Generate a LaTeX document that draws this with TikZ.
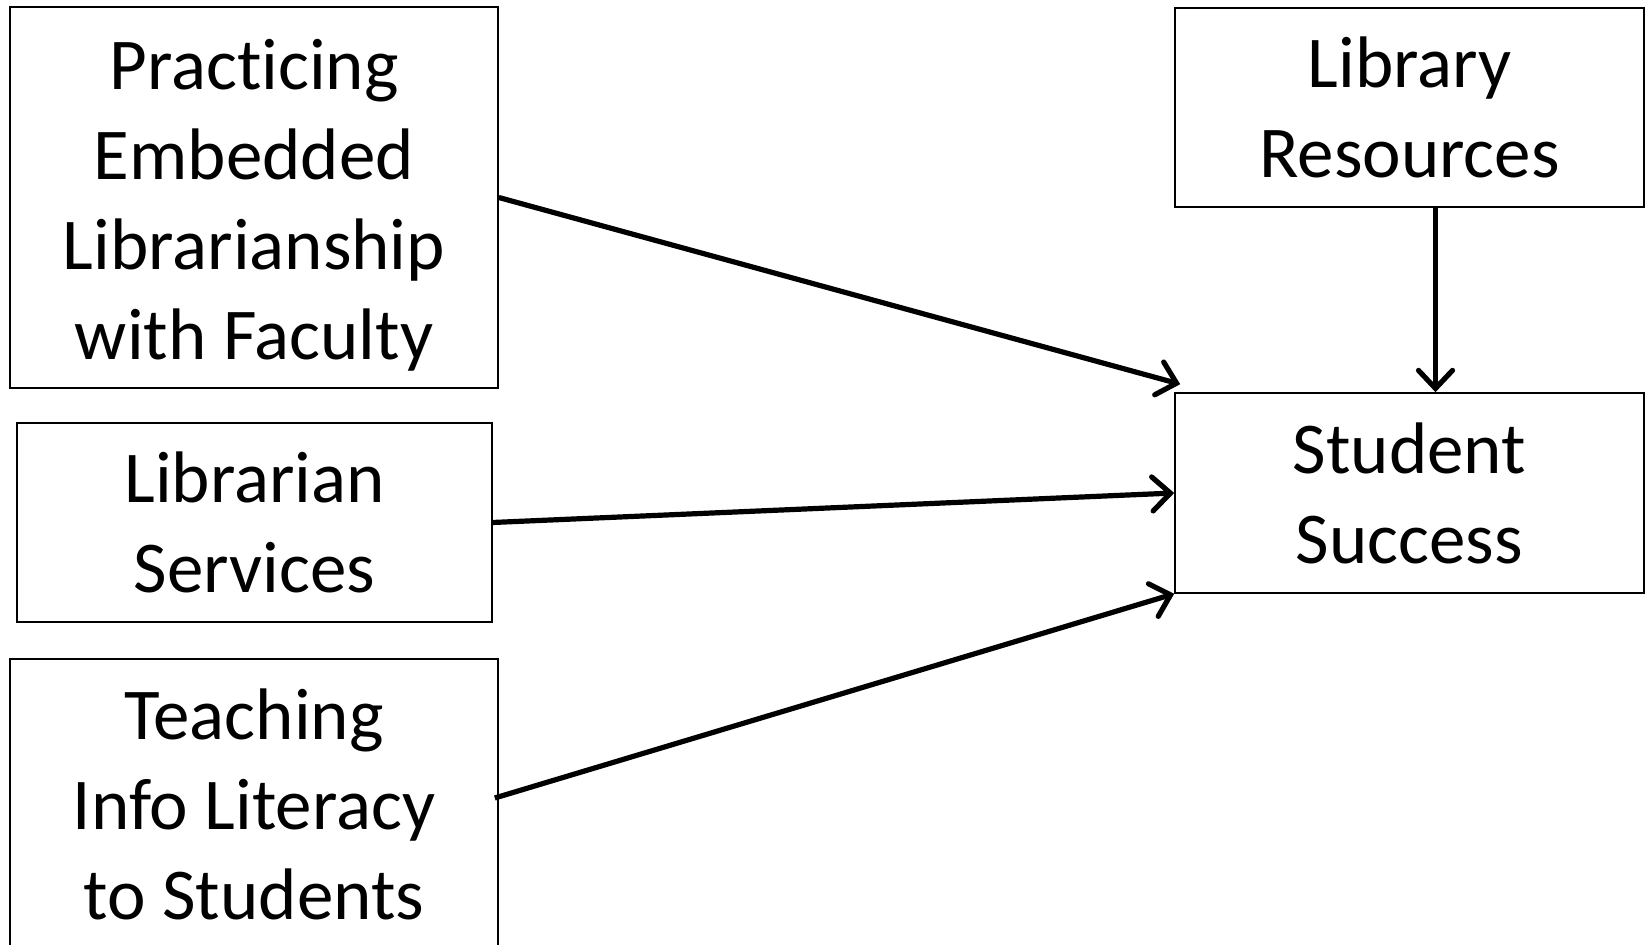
\documentclass[tikz,border=0pt]{standalone}
\usepackage{fontspec}
\setmainfont[Ligatures=NoCommon]{Carlito}
\usetikzlibrary{arrows.meta,positioning}
\tikzset{
  >={Straight Barb[length=9pt,width=17pt,line cap=round]},
  box/.style={draw=black,line width=0.8pt,align=center,inner sep=0pt,
    font=\fontsize{36.5}{45}\selectfont},
  flow/.style={->,line width=2.6pt,draw=black},
}

\begin{document}
\begin{tikzpicture}[x=0.5pt,y=-0.5pt]
    \useasboundingbox (0,0) rectangle (1646,945);
    % causes on the left
    \node[box,minimum width=244pt,minimum height=190.5pt] (pel) at (254,197.5)
      {\rule{0pt}{33pt}Practicing\\Embedded\\Librarianship\\with Faculty};
    \node[box,minimum width=237.5pt,minimum height=99.5pt] (ls) at (254.5,522.5)
      {Librarian\\Services};
    \node[box,minimum width=244pt,minimum height=148pt] (til) at (254,807)
      {Teaching\\Info Literacy\\to Students\rule[-3pt]{0pt}{0pt}};
    % right column
    \node[box,minimum width=234.5pt,minimum height=99.5pt] (lr) at (1409.5,107.5)
      {Library\\Resources};
    \node[box,minimum width=234.5pt,minimum height=100pt] (ss) at (1409.5,493)
      {Student\\Success};
    \draw[flow] (pel.east) -- ([xshift=3pt,yshift=4pt]ss.north west);
    \draw[flow] (ls.east) -- (ss.west);
    \draw[flow] ([xshift=-2pt,yshift=4.5pt]til.east) -- (ss.south west);
    \draw[flow] ([xshift=13pt]lr.south) -- ([xshift=13pt]ss.north);
\end{tikzpicture}
\end{document}
